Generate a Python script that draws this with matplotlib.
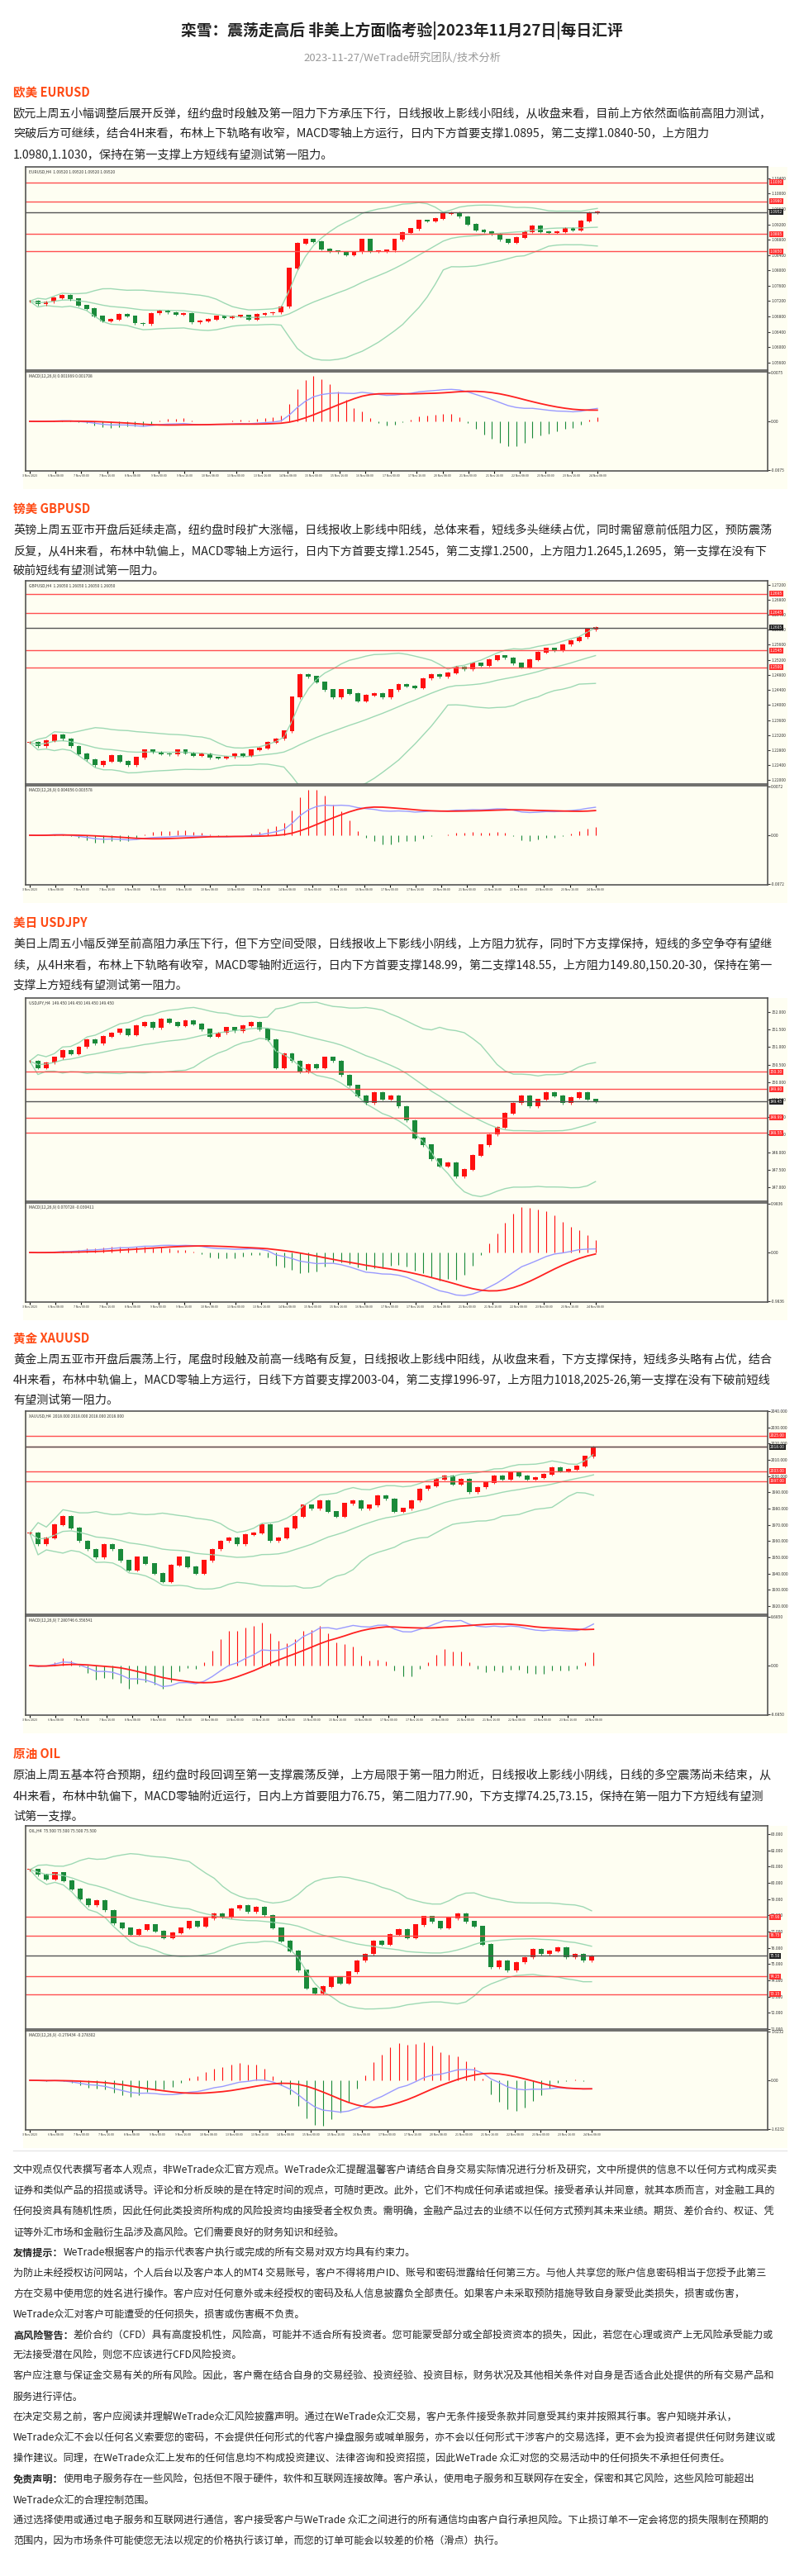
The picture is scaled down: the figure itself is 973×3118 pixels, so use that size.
import matplotlib
matplotlib.use("Agg")
import matplotlib.pyplot as plt
import numpy as np
import pandas as pd

plt.rcParams['font.family'] = ['Noto Sans CJK SC', 'DejaVu Sans']

W, H = 973, 3118
TITLE = "栾雪：震荡走高后 非美上方面临考验|2023年11月27日|每日汇评"
SUBTITLE = "2023-11-27/WeTrade研究团队/技术分析"

headers = ["欧美 EURUSD", "镑美 GBPUSD", "美日 USDJPY", "黄金 XAUUSD", "原油 OIL"]
texts = [
    ["欧元上周五小幅调整后展开反弹，纽约盘时段触及第一阻力下方承压下行，日线报收上影线小阳线，从收盘来看，目前上方依然面临前高阻力测试，",
     "突破后方可继续，结合4H来看，布林上下轨略有收窄，MACD零轴上方运行，日内下方首要支撑1.0895，第二支撑1.0840-50，上方阻力",
     "1.0980,1.1030，保持在第一支撑上方短线有望测试第一阻力。"],
    ["英镑上周五亚市开盘后延续走高，纽约盘时段扩大涨幅，日线报收上影线中阳线，总体来看，短线多头继续占优，同时需留意前低阻力区，预防震荡",
     "反复，从4H来看，布林中轨偏上，MACD零轴上方运行，日内下方首要支撑1.2545，第二支撑1.2500，上方阻力1.2645,1.2695，第一支撑在没有下",
     "破前短线有望测试第一阻力。"],
    ["美日上周五小幅反弹至前高阻力承压下行，但下方空间受限，日线报收上下影线小阴线，上方阻力犹存，同时下方支撑保持，短线的多空争夺有望继",
     "续，从4H来看，布林上下轨略有收窄，MACD零轴附近运行，日内下方首要支撑148.99，第二支撑148.55，上方阻力149.80,150.20-30，保持在第一",
     "支撑上方短线有望测试第一阻力。"],
    ["黄金上周五亚市开盘后震荡上行，尾盘时段触及前高一线略有反复，日线报收上影线中阳线，从收盘来看，下方支撑保持，短线多头略有占优，结合",
     "4H来看，布林中轨偏上，MACD零轴上方运行，日线下方首要支撑2003-04，第二支撑1996-97，上方阻力1018,2025-26,第一支撑在没有下破前短线",
     "有望测试第一阻力。"],
    ["原油上周五基本符合预期，纽约盘时段回调至第一支撑震荡反弹，上方局限于第一阻力附近，日线报收上影线小阴线，日线的多空震荡尚未结束，从",
     "4H来看，布林中轨偏下，MACD零轴附近运行，日内上方首要阻力76.75，第二阻力77.90，下方支撑74.25,73.15，保持在第一阻力下方短线有望测",
     "试第一支撑。"],
]

symbols = ["EURUSD,H4", "GBPUSD,H4", "USDJPY,H4", "XAUUSD,H4", "OIL,H4"]
time_labels = ["3 Nov 2023", "6 Nov 08:00", "7 Nov 00:00", "7 Nov 16:00", "8 Nov 08:00", "9 Nov 00:00",
               "9 Nov 16:00", "10 Nov 08:00", "13 Nov 00:00", "13 Nov 16:00", "14 Nov 08:00", "15 Nov 00:00",
               "15 Nov 16:00", "16 Nov 08:00", "17 Nov 00:00", "17 Nov 16:00", "20 Nov 08:00", "21 Nov 00:00",
               "21 Nov 16:00", "22 Nov 08:00", "23 Nov 00:00", "23 Nov 16:00", "24 Nov 08:00"]

eur_close = [1.0720,1.0712,1.0718,1.0728,1.0735,1.0725,1.0708,1.0700,1.0680,1.0668,1.0672,1.0685,1.0680,1.0662,1.0660,
             1.0688,1.0695,1.0690,1.0685,1.0688,1.0664,1.0668,1.0672,1.0680,1.0676,1.0680,1.0682,1.0672,1.0685,1.0688,
             1.0690,1.0705,1.0805,1.0870,1.0880,1.0875,1.0855,1.0850,1.0848,1.0840,1.0848,1.0880,1.0850,1.0850,1.0852,
             1.0880,1.0898,1.0908,1.0930,1.0928,1.0935,1.0948,1.0950,1.0940,1.0920,1.0905,1.0900,1.0895,1.0880,1.0872,
             1.0885,1.0900,1.0915,1.0900,1.0898,1.0900,1.0910,1.0905,1.0928,1.0950,1.0952]
gbp_close = [1.2300,1.2290,1.2305,1.2320,1.2310,1.2290,1.2270,1.2255,1.2240,1.2250,1.2265,1.2250,1.2240,1.2260,1.2280,
             1.2275,1.2270,1.2268,1.2280,1.2272,1.2265,1.2270,1.2260,1.2258,1.2262,1.2270,1.2265,1.2280,1.2285,1.2300,
             1.2310,1.2330,1.2420,1.2480,1.2475,1.2460,1.2440,1.2420,1.2440,1.2430,1.2410,1.2425,1.2430,1.2420,1.2440,
             1.2455,1.2450,1.2445,1.2470,1.2480,1.2475,1.2485,1.2500,1.2495,1.2510,1.2505,1.2520,1.2530,1.2525,1.2510,
             1.2500,1.2520,1.2540,1.2550,1.2545,1.2560,1.2570,1.2580,1.2600,1.2605]
jpy_close = [150.60,150.40,150.55,150.70,150.90,150.80,151.00,151.20,151.10,151.30,151.40,151.50,151.35,151.60,151.70,
             151.55,151.80,151.70,151.60,151.75,151.65,151.50,151.30,151.40,151.55,151.45,151.60,151.70,151.50,151.20,
             150.40,150.80,150.60,150.30,150.50,150.40,150.70,150.60,150.20,149.90,149.60,149.40,149.70,149.50,149.60,
             149.30,148.90,148.40,148.20,147.80,147.60,147.70,147.30,147.50,147.90,148.20,148.50,148.70,149.10,149.40,
             149.60,149.30,149.50,149.70,149.60,149.40,149.55,149.70,149.50,149.45]
xau_close = [1965,1958,1962,1970,1975,1968,1960,1955,1950,1958,1955,1948,1942,1950,1946,1940,1935,1945,1950,1944,
             1940,1948,1955,1960,1962,1958,1964,1965,1970,1960,1962,1968,1975,1982,1980,1985,1978,1975,1983,1985,
             1980,1982,1988,1986,1978,1980,1985,1992,1994,1998,2000,1995,1998,1990,1993,1996,2000,1998,2002,2000,
             1998,1999,2001,2005,2003,2004,2006,2012,2018]
oil_close = [80.8,80.5,80.2,80.6,80.1,79.6,79.0,78.6,78.9,78.3,77.5,77.2,76.8,77.1,77.4,77.0,76.6,76.9,77.2,77.6,
             77.3,77.8,78.1,77.9,78.4,78.6,78.2,78.5,78.0,77.2,76.4,75.8,74.6,73.5,73.2,73.6,74.2,73.8,74.5,75.2,
             75.6,76.4,76.2,76.8,77.1,76.6,77.4,77.9,77.6,77.2,77.8,78.1,77.6,77.3,76.2,74.8,75.2,74.6,75.1,75.4,
             75.9,75.6,75.8,76.0,75.4,75.6,75.2,75.5]

eur_levels = [1.1030, 1.0980, 1.0895, 1.0850]
gbp_levels = [1.2695, 1.2645, 1.2545, 1.2500]
jpy_levels = [150.30, 149.80, 148.99, 148.55]
xau_levels = [2025, 2018, 2003, 1997]
oil_levels = [77.90, 76.75, 74.25, 73.15]

eur_ylim = (1.0540, 1.1070)
gbp_ylim = (1.2190, 1.2730)
jpy_ylim = (146.6, 152.4)
xau_ylim = (1915, 2040)
oil_ylim = (71.0, 83.5)

closes = [eur_close, gbp_close, jpy_close, xau_close, oil_close]
levels = [eur_levels, gbp_levels, jpy_levels, xau_levels, oil_levels]
ylims = [eur_ylim, gbp_ylim, jpy_ylim, xau_ylim, oil_ylim]
decimals = [4, 4, 2, 2, 2]

header_y = [112, 616, 1117, 1620, 2123]
chart_top = [202, 703, 1208, 1708, 2210]

disclaimer = [
    (2627, None, "文中观点仅代表撰写者本人观点，非WeTrade众汇官方观点。WeTrade众汇提醒温馨客户请结合自身交易实际情况进行分析及研究，文中所提供的信息不以任何方式构成买卖"),
    (2652, None, "证券和类似产品的招揽或诱导。评论和分析反映的是在特定时间的观点，可随时更改。此外，它们不构成任何承诺或担保。接受者承认并同意，就其本质而言，对金融工具的"),
    (2677, None, "任何投资具有随机性质，因此任何此类投资所构成的风险投资均由接受者全权负责。需明确，金融产品过去的业绩不以任何方式预判其未来业绩。期货、差价合约、权证、凭"),
    (2702, None, "证等外汇市场和金融衍生品涉及高风险。它们需要良好的财务知识和经验。"),
    (2727, "友情提示：", "WeTrade根据客户的指示代表客户执行或完成的所有交易对双方均具有约束力。"),
    (2752, None, "为防止未经授权访问网站，个人后台以及客户本人的MT4 交易账号，客户不得将用户ID、账号和密码泄露给任何第三方。与他人共享您的账户信息密码相当于您授予此第三"),
    (2777, None, "方在交易中使用您的姓名进行操作。客户应对任何意外或未经授权的密码及私人信息披露负全部责任。如果客户未采取预防措施导致自身蒙受此类损失，损害或伤害，"),
    (2802, None, "WeTrade众汇对客户可能遭受的任何损失，损害或伤害概不负责。"),
    (2827, "高风险警告：", "差价合约（CFD）具有高度投机性，风险高，可能并不适合所有投资者。您可能蒙受部分或全部投资资本的损失，因此，若您在心理或资产上无风险承受能力或"),
    (2851, None, "无法接受潜在风险，则您不应该进行CFD风险投资。"),
    (2876, None, "客户应注意与保证金交易有关的所有风险。因此，客户需在结合自身的交易经验、投资经验、投资目标，财务状况及其他相关条件对自身是否适合此处提供的所有交易产品和"),
    (2901, None, "服务进行评估。"),
    (2926, None, "在决定交易之前，客户应阅读并理解WeTrade众汇风险披露声明。通过在WeTrade众汇交易，客户无条件接受条款并同意受其约束并按照其行事。客户知晓并承认，"),
    (2951, None, "WeTrade众汇不会以任何名义索要您的密码，不会提供任何形式的代客户操盘服务或喊单服务，亦不会以任何形式干涉客户的交易选择，更不会为投资者提供任何财务建议或"),
    (2976, None, "操作建议。同理，在WeTrade众汇上发布的任何信息均不构成投资建议、法律咨询和投资招揽，因此WeTrade 众汇对您的交易活动中的任何损失不承担任何责任。"),
    (3001, "免责声明：", "使用电子服务存在一些风险，包括但不限于硬件，软件和互联网连接故障。客户承认，使用电子服务和互联网存在安全，保密和其它风险，这些风险可能超出"),
    (3026, None, "WeTrade众汇的合理控制范围。"),
    (3051, None, "通过选择使用或通过电子服务和互联网进行通信，客户接受客户与WeTrade 众汇之间进行的所有通信均由客户自行承担风险。下止损订单不一定会将您的损失限制在预期的"),
    (3076, None, "范围内，因为市场条件可能使您无法以规定的价格执行该订单，而您的订单可能会以较差的价格（滑点）执行。"),
]

fig = plt.figure(figsize=(W / 100, H / 100), dpi=100)
fig.patch.set_facecolor("white")

def fy(px):
    return 1 - px / H

def fx(px):
    return px / W

fig.text(0.5, fy(37), TITLE, ha="center", va="center", fontsize=13.5, fontweight="bold", color="#222222")
fig.text(0.5, fy(70), SUBTITLE, ha="center", va="center", fontsize=9.5, color="#999999")

BG = "#fefef2"
UP, DN = "#ff1010", "#1a8a3a"

def draw_chart(top, close, lv, ylim, dec, sym):
    c = pd.Series(close, dtype=float)
    n = len(c)
    o = c.shift(1).fillna(c.iloc[0])
    span = ylim[1] - ylim[0]
    wick = span * 0.006
    hi = np.maximum(o, c) + wick
    lo = np.minimum(o, c) - wick
    mid = c.rolling(20, min_periods=1).mean()
    sd = c.rolling(20, min_periods=1).std().fillna(0)
    up, dn = mid + 2 * sd, mid - 2 * sd
    ema12 = c.ewm(span=12).mean()
    ema26 = c.ewm(span=26).mean()
    macd = ema12 - ema26
    sig = macd.rolling(9, min_periods=1).mean()
    hist = (macd - sig) * 2.5

    bg = fig.add_axes([fx(28), fy(top + 390), fx(925), 390 / H])
    bg.set_facecolor(BG); bg.set_xticks([]); bg.set_yticks([])
    for s in bg.spines.values():
        s.set_visible(False)
    bg.set_zorder(-5)

    ax = fig.add_axes([fx(31), fy(top + 246), fx(898), 246 / H])
    m = fig.add_axes([fx(31), fy(top + 368), fx(898), 120 / H])
    for a in (ax, m):
        a.set_facecolor(BG)
        a.set_xlim(-0.5, n + 20)
        for s in a.spines.values():
            s.set_color("#555555"); s.set_linewidth(1.2)
        a.yaxis.tick_right()
        a.tick_params(axis="y", labelsize=3.5, length=2, colors="#333333", pad=1)
    ax.set_ylim(*ylim)
    x = np.arange(n)
    ax.plot(x, up, color="#9ed9b4", lw=1)
    ax.plot(x, dn, color="#9ed9b4", lw=1)
    ax.plot(x, mid, color="#9ed9b4", lw=1)
    cols = [UP if cc >= oo else DN for cc, oo in zip(c, o)]
    ax.vlines(x, lo, hi, colors=cols, lw=0.6)
    ax.bar(x, np.abs(c - o) + span * 0.003, bottom=np.minimum(o, c), width=0.6, color=cols)
    for L in lv:
        ax.axhline(L, color="#ff5050", lw=1)
        ax.text(1.003, L, f"{L:.{dec}f}", transform=ax.get_yaxis_transform(), fontsize=3.5,
                color="white", va="center", ha="left",
                bbox=dict(boxstyle="square,pad=0.2", fc="#ff3030", ec="none"))
    cur = close[-1]
    ax.axhline(cur, color="#555555", lw=1)
    ax.text(1.003, cur, f"{cur:.{dec}f}", transform=ax.get_yaxis_transform(), fontsize=3.5,
            color="white", va="center", ha="left",
            bbox=dict(boxstyle="square,pad=0.2", fc="#222222", ec="none"))
    ax.set_xticks([])
    ax.yaxis.set_major_locator(plt.MaxNLocator(14))
    ax.yaxis.set_major_formatter(plt.FormatStrFormatter(f"%.{dec + 1}f"))
    ax.text(0.004, 0.985, f"{sym}  {close[-1]:.{dec+1}f} {close[-1]:.{dec+1}f} {close[-1]:.{dec+1}f} {close[-1]:.{dec+1}f}",
            transform=ax.transAxes, fontsize=3.5, va="top", color="#333333")

    hcols = [UP if h >= 0 else DN for h in hist]
    m.vlines(x, 0, hist, colors=hcols, lw=0.8)
    m.plot(x, macd, color="#9a9aff", lw=1)
    m.plot(x, sig, color="#ff2020", lw=1.3)
    lim = max(abs(hist.min()), abs(hist.max()), abs(macd).max()) * 1.1
    m.set_ylim(-lim, lim)
    m.set_yticks([lim * 0.98, 0, -lim * 0.98])
    m.set_yticklabels([f"{lim:.4f}", "0.00", f"{-lim:.4f}"])
    m.text(0.004, 0.98, "MACD(12,26,9) %.6f %.6f" % (macd.iloc[-1], sig.iloc[-1]),
           transform=m.transAxes, fontsize=3.5, va="top", color="#333333")
    ticks = np.linspace(0, n - 1, len(time_labels))
    m.set_xticks(ticks)
    m.set_xticklabels(time_labels, fontsize=2.6, color="#333333")
    m.tick_params(axis="x", length=2, pad=1)

for i in range(5):
    fig.text(fx(16), fy(header_y[i]), headers[i], ha="left", va="center", fontsize=10.5,
             fontweight="bold", color="#ff4a14")
    for j, line in enumerate(texts[i]):
        fig.text(fx(16), fy(header_y[i] + 26 + 24.5 * j), line, ha="left", va="center", fontsize=10.2, color="#222222")
    draw_chart(chart_top[i], closes[i], levels[i], ylims[i], decimals[i], symbols[i])

fig.add_artist(plt.Line2D([fx(16), fx(952)], [fy(2603), fy(2603)], color="#e6e6e6", lw=1))

DFS = 8.7
for y, bold, body in disclaimer:
    if bold:
        t = fig.text(fx(16), fy(y), bold, ha="left", va="center", fontsize=DFS, fontweight="bold", color="#222222")
        fig.canvas.draw()
        bb = t.get_window_extent()
        fig.text(bb.x1 / W, fy(y), body, ha="left", va="center", fontsize=DFS, color="#222222")
    else:
        fig.text(fx(16), fy(y), body, ha="left", va="center", fontsize=DFS, color="#222222")

fig.savefig("out.png", dpi=100, facecolor="white")
